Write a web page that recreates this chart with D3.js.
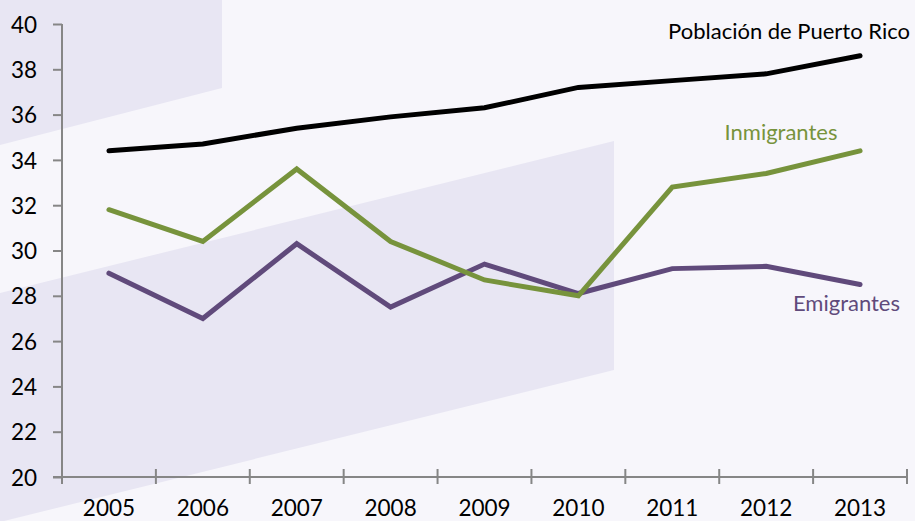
<!DOCTYPE html>
<html>
<head>
<meta charset="utf-8">
<script src="https://cdn.jsdelivr.net/npm/d3@7"></script>
<style>
  body { margin: 0; background: #f7f6fb; }
  svg { display: block; }
  .tick text { font-family: Lato, "Open Sans", sans-serif; font-size: 22.5px; fill: #000; }
  .lbl { font-family: Lato, "Open Sans", sans-serif; font-size: 22px; }
</style>
</head>
<body>
<div id="chart"></div>
<script>
// data
var years = ["2005", "2006", "2007", "2008", "2009", "2010", "2011", "2012", "2013"];
var poblacion = [34.4, 34.7, 35.4, 35.9, 36.3, 37.2, 37.5, 37.8, 38.6];
var inmigrantes = [31.8, 30.4, 33.6, 30.4, 28.7, 28.0, 32.8, 33.4, 34.4];
var emigrantes = [29.0, 27.0, 30.3, 27.5, 29.4, 28.1, 29.2, 29.3, 28.5];
var yTicks = [20, 22, 24, 26, 28, 30, 32, 34, 36, 38, 40];

var W = 915, H = 521;
var margin = {top: 24, right: 8, bottom: 44, left: 62};
var width = W - margin.left - margin.right;
var height = H - margin.top - margin.bottom;

var svg = d3.select("#chart").append("svg")
    .attr("width", W)
    .attr("height", H);

svg.append("rect").attr("width", W).attr("height", H).attr("fill", "#f7f6fb");

// decorative background bands
var bands = [
    [[0, 0], [222, 0], [222, 88], [0, 145]],
    [[0, 293], [614, 141], [614, 370], [0, 522]]
];
svg.selectAll("polygon.band")
    .data(bands)
    .enter().append("polygon")
    .attr("class", "band")
    .attr("points", function (d) { return d.join(" "); })
    .attr("fill", "#e8e6f3");

var x = d3.scaleBand().domain(years).range([0, width]);
var y = d3.scaleLinear().domain([20, 40]).range([height, 0]);

var g = svg.append("g")
    .attr("transform", "translate(" + margin.left + "," + margin.top + ")");

// y axis
var yAxis = g.append("g")
    .call(d3.axisLeft(y).tickValues(yTicks).tickSize(9).tickPadding(16));
yAxis.select(".domain").attr("stroke", "#868686").attr("stroke-width", 2).attr("d", "M0," + height + "V0");
yAxis.selectAll(".tick line").attr("stroke", "#868686").attr("stroke-width", 2);
yAxis.selectAll(".tick text").attr("dy", "0.36em");

// x axis, ticks on band boundaries crossing the line
var xAxis = g.append("g")
    .attr("transform", "translate(0," + height + ")")
    .call(d3.axisBottom(x).tickSize(0).tickPadding(23));
xAxis.select(".domain").attr("stroke", "#868686").attr("stroke-width", 2).attr("d", "M-9,0H" + width);
xAxis.selectAll(".tick text").attr("dy", "0.71em");
var bounds = years.map(function (d) { return x(d); }).concat([width]);
xAxis.selectAll("line.sep")
    .data(bounds)
    .enter().append("line")
    .attr("class", "sep")
    .attr("x1", function (d) { return d; })
    .attr("x2", function (d) { return d; })
    .attr("y1", -8).attr("y2", 7)
    .attr("stroke", "#868686").attr("stroke-width", 2);

var line = d3.line()
    .x(function (d, i) { return x(years[i]) + x.bandwidth() / 2; })
    .y(function (d) { return y(d); });

var series = [
    {name: "Emigrantes", values: emigrantes, color: "#604a7b"},
    {name: "Inmigrantes", values: inmigrantes, color: "#77933c"},
    {name: "Población de Puerto Rico", values: poblacion, color: "#000000"}
];

g.selectAll("path.series")
    .data(series)
    .enter().append("path")
    .attr("class", "series")
    .attr("d", function (d) { return line(d.values); })
    .attr("fill", "none")
    .attr("stroke", function (d) { return d.color; })
    .attr("stroke-width", 5)
    .attr("stroke-linecap", "round")
    .attr("stroke-linejoin", "miter");

// series labels
svg.append("text").attr("class", "lbl")
    .attr("x", 910).attr("y", 39).attr("text-anchor", "end")
    .attr("fill", "#000").text("Población de Puerto Rico");
svg.append("text").attr("class", "lbl")
    .attr("x", 781).attr("y", 140).attr("text-anchor", "middle")
    .attr("fill", "#77933c").text("Inmigrantes");
svg.append("text").attr("class", "lbl")
    .attr("x", 900).attr("y", 311).attr("text-anchor", "end")
    .attr("fill", "#604a7b").text("Emigrantes");
</script>
</body>
</html>
